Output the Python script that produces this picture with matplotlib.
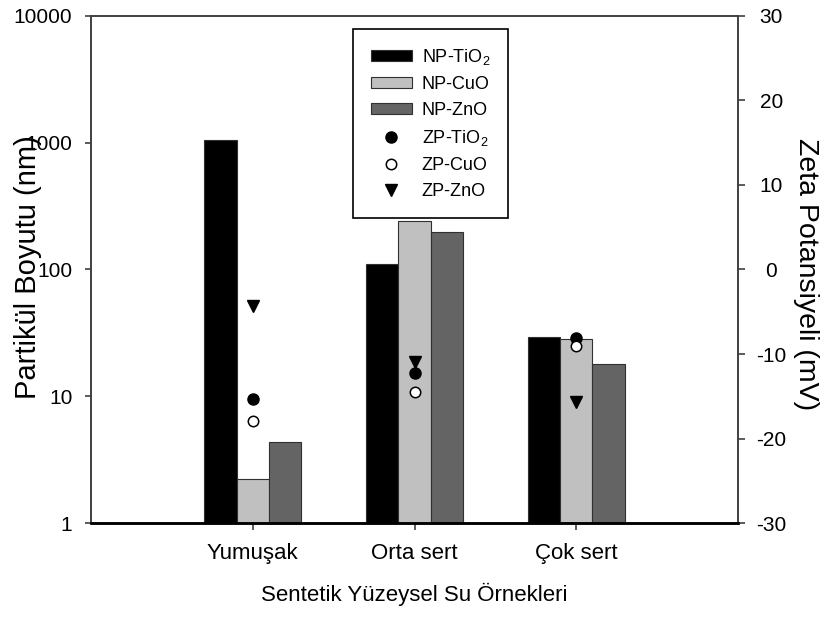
import matplotlib
matplotlib.use("Agg")
import matplotlib.pyplot as plt
import numpy as np

plt.rcParams['font.family'] = ['Liberation Sans', 'DejaVu Sans']
plt.rcParams['mathtext.fontset'] = 'custom'
plt.rcParams['mathtext.rm'] = 'Liberation Sans'
plt.rcParams['mathtext.it'] = 'Liberation Sans'
plt.rcParams['axes.unicode_minus'] = False

categories = ["Yumuşak", "Orta sert", "Çok sert"]

# Particle size (nm)
np_tio2 = [1050, 110, 29.5]
np_cuo = [2.22, 241, 28.3]
np_zno = [4.35, 196, 17.9]

# Zeta potential (mV)
zp_tio2 = [-15.3, -12.2, -8.1]
zp_cuo = [-17.9, -14.5, -9.0]
zp_zno = [-4.3, -10.9, -15.7]

left_ticks = [1, 10, 100, 1000, 10000]
right_ticks = [-30, -20, -10, 0, 10, 20, 30]

W, H = 822, 617
fig = plt.figure(figsize=(W / 100, H / 100), dpi=100)
ax = fig.add_axes([91 / W, 1 - 523.3 / H, (738 - 91) / W, (523.3 - 15.7) / H])
ax2 = ax.twinx()

x = np.arange(1, len(categories) + 1)
w = 0.2
edge = '#303030'
b1 = ax.bar(x - w, np_tio2, w, color='black', edgecolor=edge, linewidth=0.8, label='NP-TiO$_2$')
b2 = ax.bar(x, np_cuo, w, color='#c0c0c0', edgecolor=edge, linewidth=0.8, label='NP-CuO')
b3 = ax.bar(x + w, np_zno, w, color='#646464', edgecolor=edge, linewidth=0.8, label='NP-ZnO')

ax.set_yscale('log')
ax.set_ylim(1, 10000)
ax.set_xlim(0, 4)
ax.set_yticks(left_ticks)
ax.set_yticklabels([str(t) for t in left_ticks])
ax.minorticks_off()
ax.set_xticks(x)
ax.set_xticklabels(categories)

m1, = ax2.plot(x, zp_tio2, 'o', color='black', ms=8, linestyle='none', label='ZP-TiO$_2$')
m2, = ax2.plot(x, zp_cuo, 'o', markerfacecolor='white', markeredgecolor='black', ms=7.5,
               markeredgewidth=1.1, linestyle='none', label='ZP-CuO')
m3, = ax2.plot(x, zp_zno, 'v', color='black', ms=8.5, linestyle='none', label='ZP-ZnO')
ax2.set_ylim(-30, 30)
ax2.set_yticks(right_ticks)
ax2.set_yticklabels([str(t) for t in right_ticks])
ax2.set_xlim(0, 4)

spine_c = '#404040'
for a in (ax, ax2):
    for s in a.spines.values():
        s.set_color(spine_c)
        s.set_linewidth(1.2)
    a.spines['bottom'].set_color('black')
    a.spines['bottom'].set_linewidth(1.8)

ax.tick_params(axis='y', which='both', direction='out', length=4.5, width=1.2, color=spine_c,
               labelsize=15, pad=9)
ax.tick_params(axis='x', direction='out', length=5, width=1.2, color=spine_c, labelsize=16, pad=9)
ax2.tick_params(axis='y', direction='out', length=5, width=1.2, color=spine_c, labelsize=15, pad=19)
for lbl in ax2.get_yticklabels():
    lbl.set_horizontalalignment('center')

fig.text(28 / W, 1 - 267.5 / H, 'Partikül Boyutu (nm)', rotation=90, fontsize=21,
         ha='center', va='center')
fig.text(806 / W, 1 - 274 / H, 'Zeta Potansiyeli (mV)', rotation=270, fontsize=20.5,
         ha='center', va='center')
fig.text((91 + 738) / 2 / W, 1 - 594 / H, 'Sentetik Yüzeysel Su Örnekleri', fontsize=16,
         ha='center', va='center')

leg = ax2.legend(handles=[b1, b2, b3, m1, m2, m3], loc='upper left',
                 bbox_to_anchor=(0.405, 0.974), borderaxespad=0, fontsize=13,
                 fancybox=False, edgecolor='black', framealpha=1,
                 handlelength=2.25, handleheight=0.6, handletextpad=0.55,
                 labelspacing=0.5, borderpad=1.0)
leg.get_frame().set_linewidth(1.2)

fig.savefig('out.png', dpi=100)
